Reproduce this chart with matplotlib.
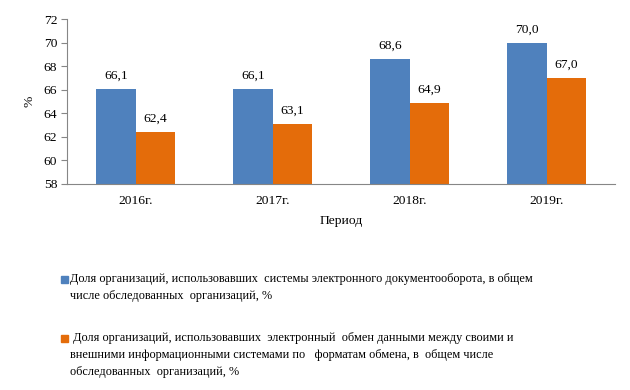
import numpy as np
import matplotlib.pyplot as plt
from matplotlib.patches import Rectangle

plt.rcParams['font.family'] = ['Liberation Serif', 'DejaVu Serif']
plt.rcParams['font.size'] = 9.7

years = ['2016г.', '2017г.', '2018г.', '2019г.']
edo_share = [66.1, 66.1, 68.6, 70.0]
exchange_share = [62.4, 63.1, 64.9, 67.0]
series_labels = [
    'Доля организаций, использовавших  системы электронного документооборота, в общем\n'
    'числе обследованных  организаций, %',
    ' Доля организаций, использовавших  электронный  обмен данными между своими и\n'
    'внешними информационными системами по   форматам обмена, в  общем числе\n'
    'обследованных  организаций, %',
]
colors = ['#4F81BD', '#E46C0A']

fig = plt.figure(figsize=(6.3, 3.9), dpi=100)
ax = fig.add_axes([67 / 630, 1 - 184 / 390, 548 / 630, 165 / 390])

x = np.arange(len(years))
w = 0.285
for vals, off, c in [(edo_share, -w / 2, colors[0]), (exchange_share, w / 2, colors[1])]:
    bars = ax.bar(x + off, vals, width=w, color=c, bottom=0)
    for b, v in zip(bars, vals):
        ax.annotate(f'{v:.1f}'.replace('.', ','), (b.get_x() + b.get_width() / 2, v),
                    xytext=(0, 5), textcoords='offset points', ha='center', va='bottom')

ax.set_ylim(58, 72)
ax.set_yticks(range(58, 73, 2))
ax.set_xlim(-0.5, 3.5)
ax.set_xticks(x)
ax.set_xticklabels(years)
ax.tick_params(axis='x', length=0, pad=8)
ax.tick_params(axis='y', length=4, color='#868686', pad=3)
for s in ['top', 'right']:
    ax.spines[s].set_visible(False)
for s in ['left', 'bottom']:
    ax.spines[s].set_color('#868686')
ax.set_ylabel('%', labelpad=6)
ax.set_xlabel('Период', labelpad=6)

# legend drawn by hand, one block per series
legend_y = [279, 338]
for lab, c, yy in zip(series_labels, colors, legend_y):
    fig.patches.append(Rectangle((61 / 630, 1 - (yy + 4) / 390), 7 / 630, 7 / 390,
                                 transform=fig.transFigure, color=c))
    fig.text(70 / 630, 1 - (yy - 6) / 390, lab, ha='left', va='top',
             fontsize=8.8, linespacing=1.55)

fig.savefig('out.png', dpi=100)
